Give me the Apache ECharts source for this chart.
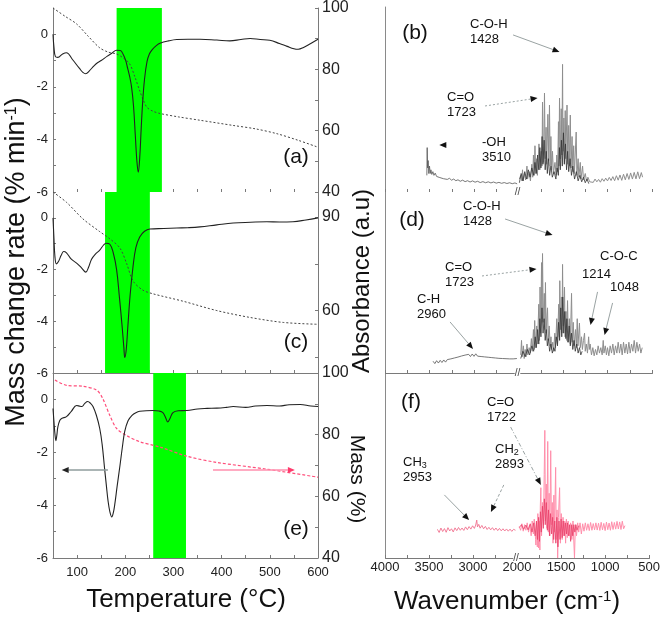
<!DOCTYPE html>
<html><head><meta charset="utf-8">
<script src="https://cdn.jsdelivr.net/npm/echarts@6/dist/echarts.min.js"></script>
<style>html,body{margin:0;padding:0;background:#fff}#c{width:663px;height:620px}</style>
</head><body><div id="c"></div>
<script>
const FONT = "'Liberation Sans', Arial, sans-serif";

// ---------- tick labels ----------
const tempLabels = [100, 200, 300, 400, 500, 600];
const tempTicks = [50, 100, 150, 200, 250, 300, 350, 400, 450, 500, 550, 600];
const rateLabels = [0, -2, -4, -6];
const rateTicks = [-6, -5, -4, -3, -2, -1, 0];
const massLabels = [40, 60, 80, 100];
const massTicks = [40, 50, 60, 70, 80, 90, 100];
const massLabelsC = [60, 90];
const massTicksC = [45, 60, 75, 90];
const waveLabels = [4000, 3500, 3000, 2000, 1500, 1000, 500];
const waveTicks = [4000, 3750, 3500, 3250, 3000, 2750, 2000, 1750, 1500, 1250, 1000, 750, 500];

// ---------- green bands (°C) ----------
const bandA = [182, 276];
const bandC = [158, 251];
const bandE = [258, 326];

// ---------- TGA / DTG data: [T (°C), value] ----------
const aDTG = [[50,0],[52,-0.5],[55,-0.85],[60,-0.88],[70,-0.75],[78,-0.7],[90,-0.95],[105,-1.3],[112,-1.45],[118,-1.5],[125,-1.4],[135,-1.2],[141,-1.1],[150,-1.0],[162,-0.84],[172,-0.72],[182,-0.61],[190,-0.62],[196,-0.78],[201,-1.0],[205,-1.3],[209,-1.6],[213,-2.0],[217,-2.7],[221,-3.9],[224,-4.8],[227,-5.25],[230,-4.7],[233,-3.6],[236,-2.6],[240,-1.7],[245,-1.05],[250,-0.75],[256,-0.58],[265,-0.42],[272,-0.34],[290,-0.25],[307,-0.2],[330,-0.19],[355,-0.19],[390,-0.22],[417,-0.25],[440,-0.2],[459,-0.16],[480,-0.2],[500,-0.23],[520,-0.35],[536,-0.46],[550,-0.55],[559,-0.57],[570,-0.5],[585,-0.35],[600,-0.19]];
const aMass = [[50,100],[75,97.3],[99,94.8],[123,90.8],[147,87],[165,85.6],[182,85],[195,83.8],[209,81.8],[220,77.5],[230,73],[238,69.8],[245,67.6],[258,66.3],[272,65.6],[310,64.5],[355,63.4],[424,61.7],[470,60.6],[515,59],[560,56.8],[600,54.6]];

const cDTG = [[50,0],[52,-0.8],[54,-1.5],[57,-1.78],[61,-1.7],[67,-1.45],[72,-1.3],[78,-1.35],[88,-1.6],[99,-1.75],[110,-1.95],[118,-2.1],[124,-1.9],[130,-1.6],[138,-1.4],[147,-1.25],[155,-1.05],[160,-0.98],[168,-1.02],[175,-1.35],[182,-2.0],[188,-3.1],[193,-4.1],[197,-5.0],[199,-5.4],[202,-5.1],[205,-4.3],[210,-3.0],[216,-1.9],[222,-1.15],[230,-0.74],[240,-0.52],[251,-0.43],[280,-0.41],[307,-0.39],[330,-0.38],[355,-0.35],[390,-0.27],[424,-0.2],[460,-0.17],[494,-0.15],[520,-0.16],[548,-0.15],[575,-0.08],[600,0]];
const cMass = [[50,98],[78,94.7],[112,89.4],[147,85.3],[168,83],[189,80],[203,75],[216,69.5],[236,66.6],[257,65.4],[320,63],[390,60],[459,57.8],[528,56.2],[600,55.6]];

const eDTG = [[50,-0.34],[52,-0.85],[54,-1.3],[56,-1.56],[58,-1.35],[60,-1.05],[64,-0.8],[68,-0.72],[78,-0.65],[88,-0.45],[99,-0.23],[106,-0.26],[110,-0.27],[116,-0.15],[122,-0.08],[128,-0.15],[133,-0.27],[140,-0.6],[147,-1.1],[152,-1.7],[157,-2.6],[161,-3.3],[164,-3.8],[168,-4.25],[172,-4.45],[175,-4.3],[178,-4.0],[183,-3.3],[189,-2.5],[194,-1.8],[199,-1.2],[206,-0.8],[214,-0.6],[222,-0.5],[230,-0.45],[257,-0.42],[270,-0.44],[278,-0.5],[284,-0.7],[288,-0.85],[292,-0.75],[299,-0.5],[310,-0.43],[328,-0.42],[350,-0.36],[370,-0.34],[390,-0.33],[410,-0.3],[424,-0.27],[450,-0.3],[470,-0.25],[494,-0.23],[520,-0.25],[540,-0.2],[563,-0.19],[585,-0.25],[600,-0.27]];
const eMass = [[54,97.7],[78,96],[112,95.7],[141,94.4],[153,91.8],[168,86.2],[182,82],[203,79.7],[230,77.7],[272,76],[328,73],[390,71],[494,68.8],[600,66.2]];

// ---------- FTIR spectra: [wavenumber, absorbance (a.u.)] ----------
const bLeft = [[3530,9],[3526,24],[3521,13],[3515,17],[3508,10],[3500,14],[3492,10],[3484,12],[3474,9.5],[3462,11],[3450,9],[3436,10.2],[3420,8.4],[3402,9.3],[3384,7.8],[3364,8.6],[3344,7.2],[3322,7.9],[3300,6.8],[3276,7.4],[3252,6.4],[3228,7.0],[3204,6.1],[3180,6.6],[3154,5.8],[3128,6.4],[3100,5.6],[3072,6.1],[3044,5.4],[3016,6.0],[2988,5.3],[2960,5.8],[2930,5.1],[2900,5.6],[2870,5.0],[2840,5.5],[2810,4.9],[2780,5.4],[2750,4.8],[2720,5.2],[2690,4.7],[2660,5.1],[2630,4.6],[2600,5.0],[2570,4.5],[2540,4.9],[2515,4.4]];
const bGray = [[1990,7],[1975,9],[1962,6],[1955,12],[1948,6],[1935,10],[1920,6.5],[1905,14],[1898,7],[1880,11],[1866,6],[1850,15],[1840,8],[1832,20],[1824,9],[1815,25],[1806,10],[1795,18],[1788,9],[1770,26],[1760,12],[1745,22],[1736,14],[1730,48.6],[1722,16],[1714,30],[1708,53.5],[1700,18],[1690,35],[1683,15],[1670,42],[1660,17],[1652,47],[1644,14],[1636,30],[1628,12],[1618,22],[1608,10],[1590,16],[1578,9],[1570,20],[1560,11],[1551,38],[1545,14],[1539,50.8],[1530,18],[1520,45],[1512,20],[1505,69],[1500,22],[1490,40],[1484,16],[1475,44],[1468,18],[1455,47],[1446,15],[1436,36],[1428,14],[1418,41.6],[1410,13],[1398,30],[1390,11],[1380,25],[1372,10],[1352,32.4],[1344,9],[1330,18],[1322,8],[1306,16],[1298,7],[1280,14],[1270,6.5],[1250,10],[1236,6],[1220,8],[1200,5.5],[1180,6.5],[1160,5.2],[1140,7],[1120,5.5],[1100,6.8],[1080,5.3],[1060,7.2],[1040,5.8],[1020,7.5],[1000,6],[980,7.9],[960,6.2],[940,8.3],[920,6.1],[900,8.8],[880,6.4],[860,9.2],[840,6.3],[820,9.6],[800,6.6],[780,10],[760,6.8],[740,10.3],[720,7],[700,10.6],[680,7.1],[660,10.9],[640,7.2],[620,10.5],[606,8]];
const bDark = [[1990,5],[1970,10],[1950,6],[1930,11],[1910,7],[1890,12],[1870,8],[1850,13],[1830,9],[1815,16],[1800,10],[1785,20],[1772,12],[1760,24],[1748,13],[1735,30],[1725,15],[1712,28],[1700,12],[1688,22],[1676,10],[1664,18],[1650,9],[1636,14],[1620,8],[1600,11],[1580,7],[1566,13],[1552,9],[1540,24],[1530,12],[1518,28],[1508,14],[1495,32],[1485,15],[1472,26],[1460,12],[1448,22],[1436,11],[1420,18],[1405,9],[1390,14],[1370,7],[1350,11],[1330,6],[1310,9],[1290,5.5],[1270,8],[1250,5],[1230,7],[1210,4.5]];

const dLeft = [[3460,6.5],[3440,5.2],[3420,6.8],[3400,5.5],[3380,7.0],[3360,5.8],[3340,7.2],[3320,6.0],[3300,7.4],[3280,6.3],[3260,7.8],[3240,6.7],[3220,8.3],[3200,7.2],[3180,8.8],[3160,7.8],[3140,9.4],[3120,8.4],[3100,9.9],[3080,8.8],[3060,10.3],[3040,9.1],[3020,10.5],[3000,9.2],[2980,10.6],[2960,9.3],[2940,10.4],[2920,9.1],[2900,10.2],[2880,8.9],[2860,9.8],[2840,8.7],[2820,9.6],[2800,8.5],[2780,9.3],[2760,8.3],[2740,9.1],[2720,8.1],[2700,8.9],[2680,8.0],[2660,8.8],[2640,7.9],[2620,8.7],[2600,7.8],[2580,8.6],[2560,7.8],[2540,8.5],[2518,8.0]];
const dGray = [[1975,10],[1966,18],[1958,9],[1945,15],[1936,8],[1925,13],[1915,9],[1905,16],[1895,10],[1880,14],[1868,11],[1855,19],[1845,12],[1832,24],[1824,13],[1818,29],[1810,14],[1795,26],[1786,16],[1772,38],[1764,18],[1758,47.5],[1750,22],[1741,61],[1736,30],[1730,66],[1722,28],[1710,44],[1702,24],[1697,50],[1690,22],[1680,32],[1674,36],[1666,18],[1655,26],[1645,15],[1635,20],[1628,13],[1615,17],[1605,12],[1592,22],[1584,14],[1570,30],[1562,16],[1548,38],[1541,20],[1536,51],[1528,24],[1518,42],[1511,22],[1505,60],[1498,26],[1490,36],[1483,47.5],[1476,20],[1466,34],[1458,18],[1449,40],[1440,17],[1428,30],[1418,16],[1404,44],[1396,17],[1385,28],[1375,15],[1360,24],[1350,14],[1340,30],[1332,15],[1315,27.6],[1306,14],[1292,20],[1282,13],[1270,18],[1258,22],[1250,12],[1238,16],[1225,11],[1212,20],[1204,13],[1195,16],[1180,10],[1165,14],[1150,9.5],[1135,13],[1120,10],[1105,15],[1090,11],[1075,14],[1060,10],[1048,18],[1040,11],[1025,15],[1012,10],[1000,14],[985,9.5],[970,15],[955,11],[940,16],[925,10],[910,15],[895,11],[880,17],[865,11],[850,16],[835,10],[820,17],[805,11],[790,16],[775,10.5],[760,17],[745,11],[730,16],[715,12],[700,18],[685,11],[670,17],[655,12],[640,16],[625,11],[610,14]];
const dDark = [[1975,8],[1950,12],[1925,9],[1900,13],[1875,10],[1850,15],[1830,12],[1812,20],[1800,14],[1785,24],[1772,16],[1760,30],[1748,20],[1736,36],[1724,22],[1712,30],[1700,18],[1688,24],[1676,15],[1664,19],[1650,12],[1636,16],[1620,11],[1604,14],[1590,12],[1576,20],[1562,15],[1550,28],[1538,18],[1525,36],[1514,20],[1503,42],[1492,22],[1480,34],[1468,19],[1456,30],[1444,17],[1430,26],[1418,15],[1404,22],[1390,13],[1376,18],[1362,12],[1346,16],[1330,11],[1315,14],[1300,10],[1285,12]];

const fLeft = [[3405,15.5],[3385,13.8],[3365,16.2],[3345,14.3],[3325,15.9],[3305,13.9],[3285,16.4],[3265,14.6],[3245,15.8],[3225,14.1],[3205,16.3],[3185,14.8],[3165,16.5],[3145,15.0],[3125,16.2],[3105,14.9],[3085,16.8],[3065,15.3],[3045,17.0],[3025,15.6],[3005,17.4],[2985,16.0],[2970,17.8],[2958,20.5],[2950,16.8],[2935,18.2],[2920,16.1],[2900,17.6],[2880,15.8],[2860,17.1],[2840,15.4],[2820,16.6],[2800,15.2],[2780,16.4],[2760,15.0],[2740,16.2],[2720,14.8],[2700,16.0],[2680,14.7],[2660,15.8],[2640,14.6],[2620,15.7],[2600,14.5],[2580,15.6],[2560,14.4],[2540,15.5],[2518,15.0]];
const fPink = [[1975,17],[1960,15],[1945,18.5],[1930,14.5],[1915,18],[1900,15],[1885,19],[1870,14],[1855,18],[1840,12],[1828,20],[1815,13],[1805,21],[1798,22],[1790,10],[1786,7],[1778,19],[1770,6],[1764,24],[1756,5.4],[1748,20],[1741,4.3],[1736,28],[1730,38],[1722,12],[1712,30],[1700,18],[1692,45],[1685,69],[1678,20],[1668,40],[1660,16],[1652,63],[1645,14],[1636,35],[1628,12],[1618,58],[1610,18],[1600,30],[1592,8],[1582,34],[1575,14],[1562,49],[1555,10],[1546,26],[1539,0],[1530,22],[1517,38],[1508,8],[1498,24],[1488,10],[1478,22],[1468,12],[1458,20],[1449,8],[1440,21],[1430,11],[1420,20],[1405,12],[1392,19],[1378,10],[1365,20],[1348,0],[1338,18],[1325,12],[1312,19],[1300,14],[1285,19],[1270,13],[1255,18.5],[1240,14.5],[1225,19],[1210,15],[1195,18.5],[1180,14.8],[1165,19.2],[1150,15],[1135,18.6],[1120,15.2],[1105,19.0],[1090,15.1],[1075,18.8],[1060,14.9],[1045,19.3],[1030,15.2],[1015,18.7],[1000,14.8],[985,19.4],[970,15.3],[955,18.9],[940,15.0],[925,19.6],[910,15.4],[895,19.2],[880,15.6],[865,19.8],[850,15.7],[835,19.5],[820,15.4],[805,19.9],[790,15.8],[775,17.5]];
const fRed = [[1975,16.5],[1950,18],[1925,15.5],[1900,17.8],[1875,15.2],[1850,18.5],[1830,14],[1810,19],[1795,12],[1780,20],[1768,10],[1755,22],[1745,9],[1735,25],[1725,14],[1712,28],[1702,16],[1690,32],[1680,18],[1668,30],[1656,15],[1644,26],[1632,12],[1620,24],[1608,13],[1596,22],[1584,10],[1572,20],[1560,8],[1548,22],[1536,6],[1524,20],[1512,10],[1500,21],[1488,11],[1476,20],[1464,12],[1452,19],[1440,13],[1428,19],[1416,12],[1404,18],[1392,9],[1380,18],[1368,12],[1356,18],[1344,14],[1332,18],[1320,15],[1300,17.5]];

// ---------- annotation arrows (data coordinates of each panel) ----------
// panel: 0=(a) 1=(c) 2=(e) 3=(b) 4=(d) 5=(f)
const arrows = [
  {panel:3, from:[2561,84.9], to:[1539,75.7], dash:'solid'},
  {panel:3, from:[2876,46.5], to:[1786,50.8], dash:[2,2]},
  {panel:3, from:[3330,25.4], to:[3390,25.4], dash:'solid'},
  {panel:4, from:[2651,85.1], to:[1618,76.2], dash:'solid'},
  {panel:4, from:[2910,53.6], to:[1798,57.5], dash:[2,2]},
  {panel:4, from:[3269,28.2], to:[3011,13.3], dash:'solid'},
  {panel:4, from:[1112,44.8], to:[1191,26.5], dash:'solid'},
  {panel:4, from:[943,38.7], to:[1033,21], dash:'solid'},
  {panel:5, from:[2573,70.8], to:[1730,39.5], dash:[4,2,1,2]},
  {panel:5, from:[3326,34.1], to:[3045,20.5], dash:'solid'},
  {panel:5, from:[2651,39.5], to:[2797,24.9], dash:[3,2]},
  {panel:2, from:[164,-2.67], to:[68,-2.67], dash:'solid', color:'#8f9d9d', head:'#222', width:1.6},
  {panel:2, from:[382,-2.67], to:[552,-2.67], dash:'solid', color:'#ff8fae', head:'#ff3a6c', width:1.6}
];

// ---------- text annotations ----------
const notes = [
  {x:470, y:17, t:'C-O-H\n1428'}, {x:447, y:90, t:'C=O\n1723'}, {x:482, y:135, t:'-OH\n3510'},
  {x:463, y:199, t:'C-O-H\n1428'}, {x:445, y:260, t:'C=O\n1723'}, {x:417, y:292, t:'C-H\n2960'},
  {x:600, y:249, t:'C-O-C'}, {x:582, y:267, t:'1214'}, {x:610, y:280, t:'1048'},
  {x:487, y:395, t:'C=O\n1722'}, {x:403, y:455, t:'{n|CH}{s|3}\n{n|2953}'}, {x:495, y:442, t:'{n|CH}{s|2}\n{n|2893}'}
];
const letters = [
  {x:296, y:157, t:'(a)'}, {x:296, y:342, t:'(c)'}, {x:296, y:529, t:'(e)'},
  {x:415, y:33, t:'(b)'}, {x:412, y:220, t:'(d)'}, {x:411, y:402, t:'(f)'}
];

// ---------- layout ----------
const grids = [
  [53, 7, 265, 185], [53, 192, 265, 181], [53, 373, 265, 185],
  [385, 7, 267, 185], [385, 192, 267, 181], [385, 373, 267, 185]
];
const AX = '#7a7a7a';

function tempX(i, showLine, showLabel) {
  return {gridIndex:i, type:'value', min:50, max:600,
    axisLine:{show:showLine, onZero:false, lineStyle:{color:AX, width:1}},
    axisTick:{show:true, inside:true, length:3, customValues:tempTicks, lineStyle:{color:AX}},
    axisLabel:{show:showLabel, customValues:tempLabels, formatter:v => String(v), fontSize:13, color:'#222', margin:8, fontFamily:FONT},
    splitLine:{show:false}};
}
function waveX(i, showLine, showLabel) {
  return {gridIndex:i, type:'value', min:500, max:4000, inverse:true,
    breaks:[{start:2000, end:2500, gap:0}],
    breakArea:{show:false},
    axisLine:{show:showLine, onZero:false, lineStyle:{color:AX, width:1}},
    axisTick:{show:true, inside:true, length:3, customValues:waveTicks, lineStyle:{color:AX}},
    axisLabel:{show:showLabel, customValues:waveLabels, formatter:v => String(v), fontSize:13, color:'#222', margin:3, fontFamily:FONT},
    splitLine:{show:false}};
}
function rateY(i) {
  return {gridIndex:i, type:'value', min:-6, max:1, position:'left',
    axisLine:{show:true, onZero:false, lineStyle:{color:AX}},
    axisTick:{show:true, inside:true, length:3, customValues:rateTicks, lineStyle:{color:AX}},
    axisLabel:{customValues:rateLabels, formatter:v => String(v), fontSize:13, color:'#222', margin:5, fontFamily:FONT},
    splitLine:{show:false}};
}
function massY(i, max, labels, ticks) {
  return {gridIndex:i, type:'value', min:40, max:max, position:'right',
    axisLine:{show:true, onZero:false, lineStyle:{color:AX}},
    axisTick:{show:true, inside:true, length:3, customValues:ticks, lineStyle:{color:AX}},
    axisLabel:{customValues:labels, formatter:v => String(v), fontSize:16, color:'#222', margin:4, fontFamily:FONT},
    splitLine:{show:false}};
}
function absY(i) {
  return {gridIndex:i, type:'value', min:0, max:100,
    axisLine:{show:true, onZero:false, lineStyle:{color:'#8a8a8a'}},
    axisTick:{show:false}, axisLabel:{show:false}, splitLine:{show:false}};
}

function line(name, data, xi, yi, color, width, type, z, smooth) {
  return {name, type:'line', data, xAxisIndex:xi, yAxisIndex:yi, showSymbol:false, symbol:'none',
    smooth: smooth || false, z: z || 3, silent:true,
    lineStyle:{color, width, type: type || 'solid'}};
}
function band(range, i) {
  return {type:'line', data:[[range[0], 0]], xAxisIndex:i, yAxisIndex:i, showSymbol:false, symbol:'none',
    z:1, silent:true, lineStyle:{width:0},
    markArea:{silent:true, itemStyle:{color:'#00ff00', opacity:1},
      data:[[{xAxis:range[0]}, {xAxis:range[1]}]]}};
}

const option = {
  animation:false,
  backgroundColor:'#ffffff',
  textStyle:{fontFamily:FONT},
  grid: grids.map(g => ({left:g[0], top:g[1], width:g[2], height:g[3]})),
  xAxis: [tempX(0,false,false), tempX(1,true,false), tempX(2,true,true),
          waveX(3,false,false), waveX(4,true,false), waveX(5,true,true)],
  yAxis: [rateY(0), rateY(1), rateY(2),
          massY(0,100,massLabels,massTicks), massY(1,98,massLabelsC,massTicksC), massY(2,100,massLabels,massTicks),
          absY(3), absY(4), absY(5)],
  series: [
    band(bandA,0), band(bandC,1), band(bandE,2),
    line('a mass', aMass, 0, 3, '#444', 1, [2,2], 2, 0.3),
    line('a DTG', aDTG, 0, 0, '#222', 1.1, 'solid', 3, 0.4),
    line('c mass', cMass, 1, 4, '#444', 1, [2,2], 2, 0.3),
    line('c DTG', cDTG, 1, 1, '#222', 1.1, 'solid', 3, 0.4),
    line('e mass', eMass, 2, 5, '#ff4f7b', 1.2, [3,2], 2, 0.3),
    line('e DTG', eDTG, 2, 2, '#222', 1.1, 'solid', 3, 0.4),
    line('b left', bLeft, 3, 6, '#555', 0.8),
    line('b gray', bGray, 3, 6, '#8e8e8e', 1),
    line('b dark', bDark, 3, 6, '#333', 0.8),
    line('d left', dLeft, 4, 7, '#555', 0.8),
    line('d gray', dGray, 4, 7, '#8e8e8e', 1),
    line('d dark', dDark, 4, 7, '#333', 0.8),
    line('f left', fLeft, 5, 8, '#f0708f', 0.9),
    line('f pink', fPink, 5, 8, '#ff8fab', 1),
    line('f red', fRed, 5, 8, '#e8406a', 0.8)
  ]
};

const chart = echarts.init(document.getElementById('c'), null, {renderer:'canvas'});
chart.setOption(option);

// ---------- graphics: titles, letters, notes, arrows ----------
const g = [];
g.push({type:'text', x:17, y:262, rotation:Math.PI/2, silent:true, z:100,
  style:{text:'{a|Mass change rate (% min}{s|-1}{a|)}', align:'center', verticalAlign:'middle',
    rich:{a:{fontSize:27, fontFamily:FONT, fill:'#111'}, s:{fontSize:16, fontFamily:FONT, fill:'#111', verticalAlign:'top', lineHeight:18}}}});
g.push({type:'text', x:362, y:281, rotation:Math.PI/2, silent:true, z:100,
  style:{text:'Absorbance (a.u)', fontSize:24, fontFamily:FONT, fill:'#111', align:'center', verticalAlign:'middle'}});
g.push({type:'text', x:357, y:479, rotation:-Math.PI/2, silent:true, z:100,
  style:{text:'Mass (%)', fontSize:21, fontFamily:FONT, fill:'#111', align:'center', verticalAlign:'middle'}});
g.push({type:'text', x:186, y:600, silent:true, z:100,
  style:{text:'Temperature (°C)', fontSize:26, fontFamily:FONT, fill:'#111', align:'center', verticalAlign:'middle'}});
g.push({type:'text', x:507, y:602, silent:true, z:100,
  style:{text:'{a|Wavenumber (cm}{s|-1}{a|)}', align:'center', verticalAlign:'middle',
    rich:{a:{fontSize:26, fontFamily:FONT, fill:'#111'}, s:{fontSize:15, fontFamily:FONT, fill:'#111', verticalAlign:'top', lineHeight:18}}}});
letters.forEach(l => g.push({type:'text', x:l.x, y:l.y, silent:true, z:100,
  style:{text:l.t, fontSize:21, fontFamily:FONT, fill:'#111', align:'center', verticalAlign:'middle'}}));
notes.forEach(n => g.push({type:'text', x:n.x, y:n.y, silent:true, z:100,
  style:{text:n.t, fontSize:13, lineHeight:15, fontFamily:FONT, fill:'#111', align:'left', verticalAlign:'top',
    rich:{n:{fontSize:13, lineHeight:15, fontFamily:FONT, fill:'#111'}, s:{fontSize:9, lineHeight:15, fontFamily:FONT, fill:'#111', verticalAlign:'bottom'}}}}));

function toPx(panel, pt) {
  const yi = panel < 3 ? panel : panel + 3;
  return chart.convertToPixel({xAxisIndex:panel, yAxisIndex:yi}, pt);
}
arrows.forEach(a => {
  const p1 = toPx(a.panel, a.from), p2 = toPx(a.panel, a.to);
  const dx = p2[0]-p1[0], dy = p2[1]-p1[1], L = Math.hypot(dx, dy) || 1;
  const ux = dx/L, uy = dy/L, hl = 7, hw = 3;
  const bx = p2[0]-ux*hl, by = p2[1]-uy*hl;
  g.push({type:'line', silent:true, z:90,
    shape:{x1:p1[0], y1:p1[1], x2:bx, y2:by},
    style:{stroke:a.color || '#9aa3a3', lineWidth:a.width || 1, lineDash:a.dash === 'solid' ? null : a.dash}});
  g.push({type:'polygon', silent:true, z:91,
    shape:{points:[[p2[0],p2[1]], [bx - uy*hw, by + ux*hw], [bx + uy*hw, by - ux*hw]]},
    style:{fill:a.head || '#111'}});
});
[3,4,5].forEach(p => {
  const pt = toPx(p, [2000, 0]);
  g.push({type:'text', x:pt[0]-1, y:pt[1], silent:true, z:100,
    style:{text:'//', fontSize:10, fontFamily:FONT, fill:'#444', align:'center', verticalAlign:'middle', backgroundColor:'#fff'}});
});
chart.setOption({graphic:g});
</script></body></html>
